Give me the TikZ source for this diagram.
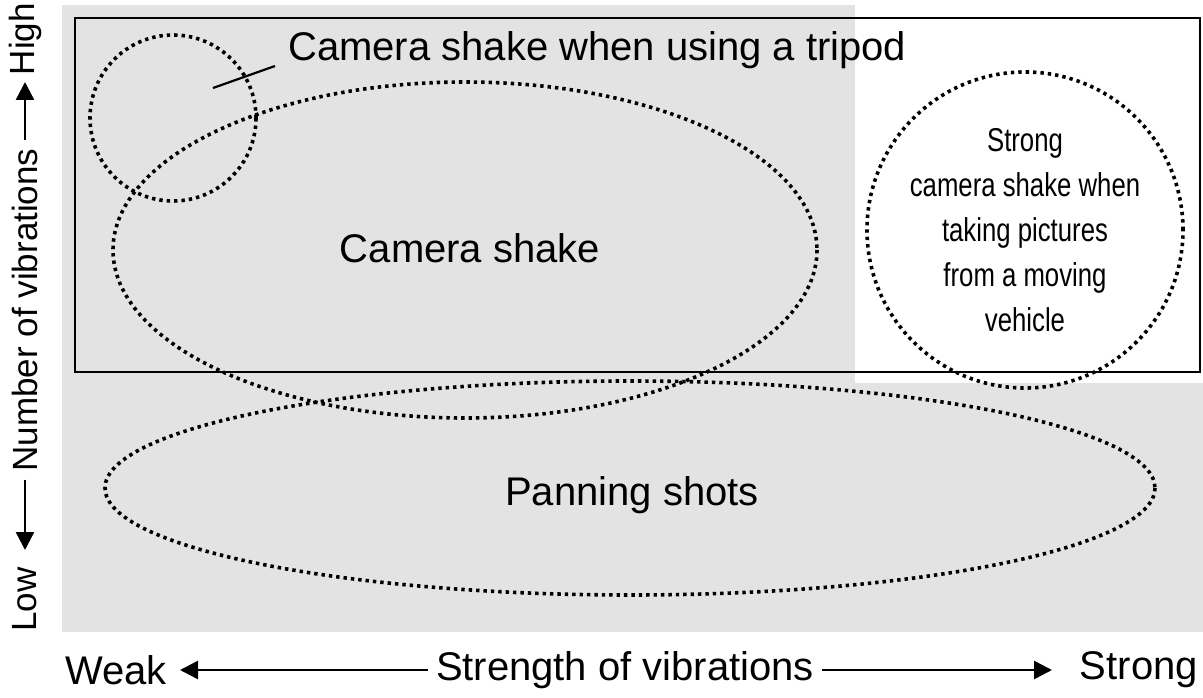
\documentclass[tikz,border=0pt]{standalone}
\usepackage{fontspec}
\setmainfont{Liberation Sans}
\newfontfamily\narrowfont[FakeStretch=0.78]{Liberation Sans}
\usetikzlibrary{arrows.meta}
\begin{document}
\begin{tikzpicture}[x=1pt,y=-1pt,
  dots/.style={line width=3.6pt,dash pattern=on 3.4pt off 4pt},
  lbl/.style={font=\fontsize{40}{46}\selectfont,inner sep=0},
  vlbl/.style={font=\fontsize{35}{40}\selectfont,inner sep=0,rotate=90},
  axarrow/.style={line width=2.4pt,-{Triangle[length=18pt,width=18pt]}}]
\useasboundingbox (0,0) rectangle (1203,698);
\fill[gray!22] (62,5) rectangle (1203,632);
\fill[white] (855,5) rectangle (1203,383);
\draw[line width=2.4pt] (75,18) rectangle (1200,372);
\node[draw,circle,dots,minimum size=166pt] (tri) at (173,118) {};
\draw[dots] (465,250) ellipse [x radius=352, y radius=168];
\node[lbl] (cs) at (470,248) {Camera shake};
\node[lbl,anchor=west] (tl) at (288,50) {Camera shake when using a tripod};
\coordinate (tp) at (213,88);
\draw[line width=2.2pt] (tp) -- (275,66);
\node[draw,circle,dots,minimum size=294pt,align=center,font=\narrowfont\fontsize{33}{45}\selectfont] (mv) at (1025,230) {Strong\\camera shake when\\taking pictures\\from a moving\\vehicle};
\draw[dots] (630,488) ellipse [x radius=525, y radius=107];
\node[lbl] (ps) at (632,495) {Panning shots};
\node[lbl,anchor=west] (weak) at (65,670) {Weak};
\node[lbl] (sv) at (625,670) {Strength of vibrations};
\node[lbl,anchor=east] (strong) at (1198,670) {Strong};
\draw[axarrow] (sv.west) ++(-8,0) -- (180,670);
\draw[axarrow] (sv.east) ++(8,0) -- (1052,670);
\node[vlbl,anchor=west] (low) at (25,632) {Low};
\node[vlbl] (nv) at (25,310) {Number of vibrations};
\node[vlbl,anchor=east] (high) at (25,3) {High};
\draw[axarrow] (nv.west) ++(0,8) -- (25,550);
\draw[axarrow] (nv.east) ++(0,-8) -- (25,82);
\end{tikzpicture}
\end{document}
